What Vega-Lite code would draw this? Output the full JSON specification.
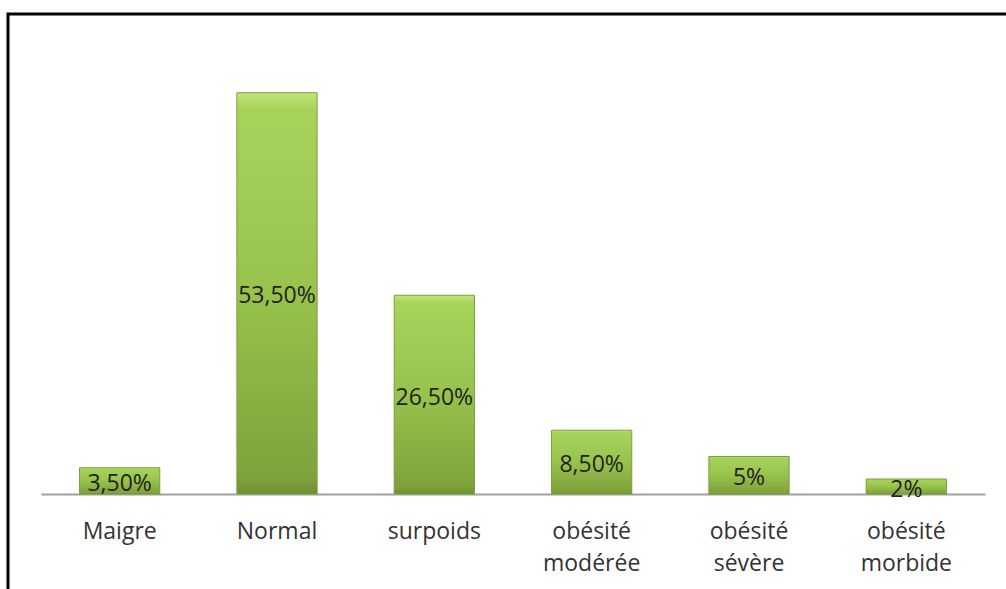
{
  "$schema": "https://vega.github.io/schema/vega-lite/v6.json",
  "autosize": {"type": "none"},
  "padding": {"left": 8, "top": 14, "right": 0, "bottom": 0},
  "width": 1010,
  "height": 600,
  "background": "white",
  "config": {
    "view": {"stroke": "#000000", "strokeWidth": 3},
    "font": "Open Sans"
  },
  "data": {
    "values": [
      {"cat": "Maigre", "v": 3.5, "label": "3,50%"},
      {"cat": "Normal", "v": 53.5, "label": "53,50%"},
      {"cat": "surpoids", "v": 26.5, "label": "26,50%"},
      {"cat": "obésité\nmodérée", "v": 8.5, "label": "8,50%"},
      {"cat": "obésité\nsévère", "v": 5, "label": "5%"},
      {"cat": "obésité\nmorbide", "v": 2, "label": "2%"}
    ]
  },
  "encoding": {
    "x": {
      "field": "cat",
      "type": "nominal",
      "sort": null,
      "scale": {"range": [33, 977], "paddingInner": 0.49, "paddingOuter": 0.245},
      "axis": {
        "title": null,
        "labelAngle": 0,
        "labelExpr": "split(datum.label, '\\n')",
        "labelFont": "Open Sans",
        "labelFontSize": 23,
        "labelColor": "#333333",
        "labelLineHeight": 32,
        "labelPadding": 26,
        "labelBaseline": "top",
        "ticks": false,
        "domainColor": "#a0a0a0",
        "domainWidth": 2,
        "offset": -120,
        "grid": false
      }
    }
  },
  "layer": [
    {
      "mark": {
        "type": "bar",
        "stroke": "#7b9e38",
        "strokeWidth": 1,
        "color": {
          "gradient": "linear",
          "x1": 0, "y1": 0, "x2": 0, "y2": 1,
          "stops": [
            {"offset": 0, "color": "#bfe57a"},
            {"offset": 0.04, "color": "#a8d35b"},
            {"offset": 0.5, "color": "#97c24c"},
            {"offset": 0.96, "color": "#7fa23c"},
            {"offset": 1, "color": "#6e8f32"}
          ]
        }
      },
      "encoding": {
        "y": {
          "field": "v",
          "type": "quantitative",
          "scale": {"domain": [-16, 64], "zero": false, "nice": false},
          "axis": null
        },
        "y2": {"datum": 0}
      }
    },
    {
      "mark": {
        "type": "text",
        "font": "Open Sans",
        "fontSize": 23,
        "color": "#222222",
        "baseline": "middle",
        "align": "center",
        "dy": 3
      },
      "encoding": {
        "y": {
          "field": "v",
          "type": "quantitative",
          "scale": {"domain": [-32, 128], "zero": false, "nice": false},
          "axis": null
        },
        "text": {"field": "label"}
      }
    }
  ],
  "resolve": {"scale": {"y": "independent"}}
}
